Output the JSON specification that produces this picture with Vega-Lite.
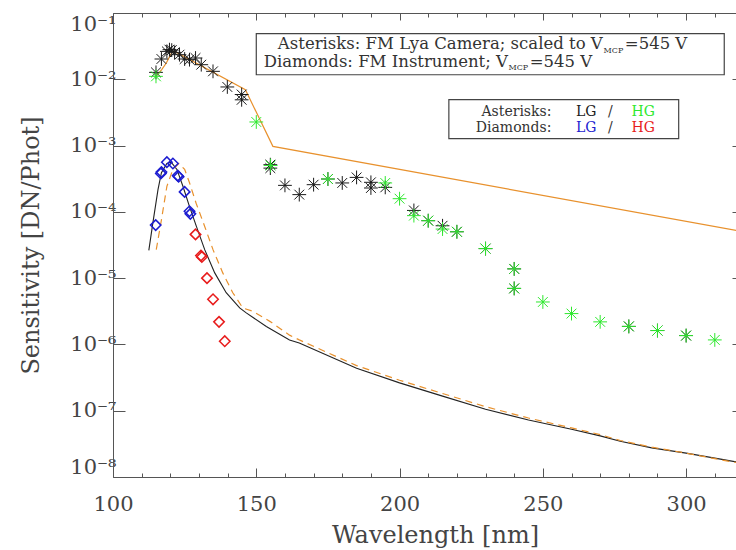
{
  "$schema": "https://vega.github.io/schema/vega-lite/v6.json",
  "width": 623,
  "height": 464,
  "autosize": "none",
  "padding": {"left": 113, "top": 13, "right": 0, "bottom": 73},
  "background": "white",
  "config": {"view": {"stroke": null}, "text": {"font": "DejaVu Serif"}},
  "resolve": {"axis": {"x": "independent", "y": "independent"}},
  "layer": [
    {
      "data": {"values": [
        {"wl": 115, "s": 0.01107}, {"wl": 117, "s": 0.01396}, {"wl": 118.6, "s": 0.01762},
        {"wl": 119.5, "s": 0.02094}, {"wl": 120.5, "s": 0.02547}, {"wl": 121.5, "s": 0.02636},
        {"wl": 146.2, "s": 0.00697}, {"wl": 155.8, "s": 0.000973}, {"wl": 320, "s": 0.00005}
      ]},
      "mark": {"type": "line", "color": "#e8912d", "strokeWidth": 1.2, "clip": true},
      "encoding": {
        "x": {"field": "wl", "type": "quantitative",
          "scale": {"domain": [100, 317.4], "nice": false, "zero": false},
          "axis": {"orient": "bottom", "values": [100,110,120,130,140,150,160,170,180,190,200,210,220,230,240,250,260,270,280,290,300,310],
            "tickSize": {"condition": {"test": "datum.value % 50 === 0", "value": -9}, "value": -4},
            "labelExpr": "datum.value % 50 === 0 ? datum.label : ''",
            "labelFlush": false, "labelOverlap": false, "labelPadding": 25, "grid": false,
            "labelFont": "DejaVu Serif", "labelFontSize": 21, "labelColor": "#444",
            "domainColor": "#555", "tickColor": "#555",
            "title": "Wavelength [nm]", "titleFont": "DejaVu Serif", "titleFontSize": 24, "titleFontWeight": "normal",
            "titleColor": "#444", "titleX": 322, "titleY": 65, "titleBaseline": "alphabetic", "titleAlign": "center"}},
        "y": {"field": "s", "type": "quantitative",
          "scale": {"type": "log", "domain": [1e-8, 0.1], "nice": false},
          "axis": {"orient": "left", "values": [1e-8,1e-7,1e-6,1e-5,1e-4,1e-3,1e-2,1e-1],
            "tickSize": -12, "grid": false,
            "labelExpr": "'10⁻' + ['⁰','¹','²','³','⁴','⁵','⁶','⁷','⁸','⁹'][round(-log(datum.value)/LN10)]",
            "labelFlush": true, "labelPadding": 9,
            "labelFont": "DejaVu Serif", "labelFontSize": 21, "labelColor": "#444",
            "domainColor": "#555", "tickColor": "#555",
            "title": "Sensitivity [DN/Phot]", "titleFont": "DejaVu Serif", "titleFontSize": 24, "titleFontWeight": "normal",
            "titleColor": "#444", "titleX": -82, "titleY": 232, "titleAngle": 270, "titleBaseline": "middle", "titleAlign": "center"}}
      }
    },
    {
      "data": {"values": [
        {"wl": 112.5, "s": 2.63e-5}, {"wl": 113.9, "s": 6.76e-5}, {"wl": 115.7, "s": 2.16e-4},
        {"wl": 116.9, "s": 3.89e-4}, {"wl": 118.8, "s": 5.37e-4}, {"wl": 120.3, "s": 5.62e-4},
        {"wl": 122.3, "s": 4.37e-4}, {"wl": 124.4, "s": 2.43e-4}, {"wl": 126.7, "s": 1.20e-4},
        {"wl": 129.1, "s": 6.03e-5}, {"wl": 132, "s": 2.69e-5}, {"wl": 135.5, "s": 1.20e-5},
        {"wl": 139.5, "s": 6.03e-6}, {"wl": 144.2, "s": 3.55e-6}, {"wl": 146.5, "s": 2.99e-6},
        {"wl": 153.5, "s": 1.86e-6}, {"wl": 161.6, "s": 1.17e-6}, {"wl": 165, "s": 1.05e-6},
        {"wl": 185, "s": 4.37e-7}, {"wl": 200, "s": 2.63e-7}, {"wl": 215, "s": 1.66e-7},
        {"wl": 230, "s": 1.05e-7}, {"wl": 245, "s": 7.24e-8}, {"wl": 260, "s": 5.25e-8},
        {"wl": 270, "s": 4.17e-8}, {"wl": 277, "s": 3.47e-8}, {"wl": 288, "s": 2.75e-8},
        {"wl": 300, "s": 2.29e-8}, {"wl": 312, "s": 1.86e-8}, {"wl": 320, "s": 1.62e-8}
      ]},
      "mark": {"type": "line", "color": "#222", "strokeWidth": 1.1, "clip": true},
      "encoding": {
        "x": {"field": "wl", "type": "quantitative",
          "axis": {"orient": "top", "values": [100,110,120,130,140,150,160,170,180,190,200,210,220,230,240,250,260,270,280,290,300,310],
            "tickSize": {"condition": {"test": "datum.value % 50 === 0", "value": -7}, "value": -4},
            "labels": false, "title": null, "grid": false, "domainColor": "#555", "tickColor": "#555"}},
        "y": {"field": "s", "type": "quantitative",
          "axis": {"orient": "right", "values": [1e-8,1e-7,1e-6,1e-5,1e-4,1e-3,1e-2,1e-1],
            "tickSize": -4, "labels": false, "title": null, "grid": false, "domain": false, "tickColor": "#555"}}
      }
    },
    {
      "data": {"values": [
        {"wl": 115.1, "s": 2.69e-5}, {"wl": 116.9, "s": 7.59e-5}, {"wl": 118.8, "s": 2.43e-4},
        {"wl": 120.9, "s": 4.37e-4}, {"wl": 123, "s": 5.37e-4}, {"wl": 125, "s": 4.37e-4},
        {"wl": 126.7, "s": 2.75e-4}, {"wl": 129, "s": 1.35e-4}, {"wl": 132, "s": 6.03e-5},
        {"wl": 134.9, "s": 2.69e-5}, {"wl": 138.3, "s": 1.20e-5}, {"wl": 141.8, "s": 6.03e-6},
        {"wl": 145.3, "s": 3.55e-6}, {"wl": 148.8, "s": 3.16e-6}, {"wl": 155, "s": 2.19e-6},
        {"wl": 161.6, "s": 1.38e-6}, {"wl": 165, "s": 1.17e-6}, {"wl": 185, "s": 4.79e-7},
        {"wl": 200, "s": 2.88e-7}, {"wl": 215, "s": 1.82e-7}, {"wl": 230, "s": 1.15e-7},
        {"wl": 245, "s": 7.76e-8}, {"wl": 260, "s": 5.50e-8}, {"wl": 270, "s": 4.37e-8},
        {"wl": 277, "s": 3.55e-8}, {"wl": 288, "s": 2.82e-8}, {"wl": 300, "s": 2.29e-8},
        {"wl": 312, "s": 1.82e-8}, {"wl": 320, "s": 1.58e-8}
      ]},
      "mark": {"type": "line", "color": "#e8912d", "strokeWidth": 1.2, "strokeDash": [7, 5], "clip": true},
      "encoding": {
        "x": {"field": "wl", "type": "quantitative", "axis": null},
        "y": {"field": "s", "type": "quantitative", "axis": null}
      }
    },
    {
      "data": {"values": [
        {"wl": 115, "s": 0.01271, "series": "Asterisks LG"}, {"wl": 116.9, "s": 0.02023, "series": "Asterisks LG"},
        {"wl": 118.8, "s": 0.02636, "series": "Asterisks LG"}, {"wl": 119.7, "s": 0.02799, "series": "Asterisks LG"},
        {"wl": 120.5, "s": 0.02754, "series": "Asterisks LG"}, {"wl": 121.5, "s": 0.02547, "series": "Asterisks LG"},
        {"wl": 123.2, "s": 0.0235, "series": "Asterisks LG"}, {"wl": 125, "s": 0.02023, "series": "Asterisks LG"},
        {"wl": 126.7, "s": 0.01977, "series": "Asterisks LG"}, {"wl": 128.8, "s": 0.02094, "series": "Asterisks LG"},
        {"wl": 130.8, "s": 0.0166, "series": "Asterisks LG"}, {"wl": 134.9, "s": 0.01318, "series": "Asterisks LG"},
        {"wl": 139.9, "s": 0.00766, "series": "Asterisks LG"}, {"wl": 144.9, "s": 0.00589, "series": "Asterisks LG"},
        {"wl": 144.9, "s": 0.0049, "series": "Asterisks LG"}, {"wl": 154.9, "s": 0.000515, "series": "Asterisks LG"},
        {"wl": 154.9, "s": 0.000457, "series": "Asterisks LG"}, {"wl": 160, "s": 0.000251, "series": "Asterisks LG"},
        {"wl": 165, "s": 0.000182, "series": "Asterisks LG"}, {"wl": 170, "s": 0.000257, "series": "Asterisks LG"},
        {"wl": 175, "s": 0.000313, "series": "Asterisks LG"}, {"wl": 180, "s": 0.000273, "series": "Asterisks LG"},
        {"wl": 185, "s": 0.000331, "series": "Asterisks LG"}, {"wl": 190, "s": 0.000279, "series": "Asterisks LG"},
        {"wl": 190, "s": 0.000229, "series": "Asterisks LG"}, {"wl": 195, "s": 0.000234, "series": "Asterisks LG"},
        {"wl": 205, "s": 0.000105, "series": "Asterisks LG"}, {"wl": 210, "s": 7.36e-5, "series": "Asterisks LG"},
        {"wl": 215, "s": 6.17e-5, "series": "Asterisks LG"}, {"wl": 220, "s": 5.01e-5, "series": "Asterisks LG"},
        {"wl": 230, "s": 2.79e-5, "series": "Asterisks LG"}, {"wl": 240, "s": 1.38e-5, "series": "Asterisks LG"},
        {"wl": 240, "s": 7.0e-6, "series": "Asterisks LG"}, {"wl": 280, "s": 1.87e-6, "series": "Asterisks LG"},
        {"wl": 290, "s": 1.62e-6, "series": "Asterisks LG"}, {"wl": 300, "s": 1.36e-6, "series": "Asterisks LG"},
        {"wl": 115, "s": 0.01107, "series": "Asterisks HG"}, {"wl": 150, "s": 0.00227, "series": "Asterisks HG"},
        {"wl": 155, "s": 0.000501, "series": "Asterisks HG"}, {"wl": 175, "s": 0.000313, "series": "Asterisks HG"},
        {"wl": 195, "s": 0.000273, "series": "Asterisks HG"}, {"wl": 200, "s": 0.000158, "series": "Asterisks HG"},
        {"wl": 205, "s": 8.77e-5, "series": "Asterisks HG"}, {"wl": 210, "s": 7.36e-5, "series": "Asterisks HG"},
        {"wl": 215, "s": 5.5e-5, "series": "Asterisks HG"}, {"wl": 220, "s": 5.01e-5, "series": "Asterisks HG"},
        {"wl": 230, "s": 2.79e-5, "series": "Asterisks HG"}, {"wl": 240, "s": 1.38e-5, "series": "Asterisks HG"},
        {"wl": 240, "s": 7.0e-6, "series": "Asterisks HG"}, {"wl": 250, "s": 4.37e-6, "series": "Asterisks HG"},
        {"wl": 260, "s": 2.92e-6, "series": "Asterisks HG"}, {"wl": 270, "s": 2.19e-6, "series": "Asterisks HG"},
        {"wl": 280, "s": 1.87e-6, "series": "Asterisks HG"}, {"wl": 290, "s": 1.62e-6, "series": "Asterisks HG"},
        {"wl": 300, "s": 1.36e-6, "series": "Asterisks HG"}, {"wl": 310, "s": 1.17e-6, "series": "Asterisks HG"}
      ]},
      "mark": {"type": "point", "filled": false, "strokeWidth": 1, "opacity": 1, "size": 190,
        "shape": "M-1,0L1,0M0,-1L0,1M-0.71,-0.71L0.71,0.71M-0.71,0.71L0.71,-0.71"},
      "encoding": {
        "x": {"field": "wl", "type": "quantitative", "axis": null},
        "y": {"field": "s", "type": "quantitative", "axis": null},
        "color": {"field": "series", "type": "nominal", "legend": null,
          "scale": {"domain": ["Asterisks LG", "Asterisks HG", "Diamonds LG", "Diamonds HG", "Text"],
                    "range": ["#1a1a1a", "#2ee82e", "#1c1cd0", "#e81c1c", "#333333"]}}
      }
    },
    {
      "data": {"values": [
        {"wl": 114.9, "s": 6.31e-5, "series": "Diamonds LG"}, {"wl": 116.7, "s": 3.80e-4, "series": "Diamonds LG"},
        {"wl": 116.9, "s": 3.98e-4, "series": "Diamonds LG"}, {"wl": 118.8, "s": 5.62e-4, "series": "Diamonds LG"},
        {"wl": 120.9, "s": 5.37e-4, "series": "Diamonds LG"}, {"wl": 122.6, "s": 3.52e-4, "series": "Diamonds LG"},
        {"wl": 122.9, "s": 3.39e-4, "series": "Diamonds LG"}, {"wl": 125, "s": 2.0e-4, "series": "Diamonds LG"},
        {"wl": 126.7, "s": 1.02e-4, "series": "Diamonds LG"}, {"wl": 127, "s": 9.33e-5, "series": "Diamonds LG"},
        {"wl": 128.8, "s": 4.57e-5, "series": "Diamonds HG"}, {"wl": 130.7, "s": 2.19e-5, "series": "Diamonds HG"},
        {"wl": 131.0, "s": 2.09e-5, "series": "Diamonds HG"}, {"wl": 132.8, "s": 1.0e-5, "series": "Diamonds HG"},
        {"wl": 134.9, "s": 4.79e-6, "series": "Diamonds HG"}, {"wl": 137, "s": 2.19e-6, "series": "Diamonds HG"},
        {"wl": 139, "s": 1.12e-6, "series": "Diamonds HG"}
      ]},
      "mark": {"type": "point", "shape": "diamond", "filled": false, "strokeWidth": 1.5, "opacity": 1, "size": 110},
      "encoding": {
        "x": {"field": "wl", "type": "quantitative", "axis": null},
        "y": {"field": "s", "type": "quantitative", "axis": null},
        "color": {"field": "series", "type": "nominal", "legend": null}
      }
    },
    {
      "data": {"values": [
        {"x1": 150.0, "x2": 313.3, "y1": 0.0487, "y2": 0.0117},
        {"x1": 217.2, "x2": 297.4, "y1": 0.00492, "y2": 0.00127}
      ]},
      "mark": {"type": "rect", "fill": null, "stroke": "#444", "strokeWidth": 1.2},
      "encoding": {
        "x": {"field": "x1", "type": "quantitative", "axis": null},
        "x2": {"field": "x2"},
        "y": {"field": "y1", "type": "quantitative", "axis": null},
        "y2": {"field": "y2"}
      }
    },
    {
      "data": {"values": [
        {"wl": 270.9, "s": 0.0286, "t": "Asterisks: FM Lya Camera; scaled to V"},
        {"wl": 237.8, "s": 0.0155, "t": "Diamonds: FM Instrument; V"}
      ]},
      "mark": {"type": "text", "align": "right", "baseline": "alphabetic", "fontSize": 16.5, "color": "#333"},
      "encoding": {
        "x": {"field": "wl", "type": "quantitative", "axis": null},
        "y": {"field": "s", "type": "quantitative", "axis": null},
        "text": {"field": "t"}
      }
    },
    {
      "data": {"values": [
        {"wl": 271.2, "s": 0.0252, "t": "MCP"},
        {"wl": 238.0, "s": 0.0136, "t": "MCP"}
      ]},
      "mark": {"type": "text", "align": "left", "baseline": "alphabetic", "fontSize": 8, "color": "#333"},
      "encoding": {
        "x": {"field": "wl", "type": "quantitative", "axis": null},
        "y": {"field": "s", "type": "quantitative", "axis": null},
        "text": {"field": "t"}
      }
    },
    {
      "data": {"values": [
        {"wl": 278.6, "s": 0.0286, "t": "=545  V"},
        {"wl": 245.4, "s": 0.0155, "t": "=545  V"}
      ]},
      "mark": {"type": "text", "align": "left", "baseline": "alphabetic", "fontSize": 16.5, "color": "#333"},
      "encoding": {
        "x": {"field": "wl", "type": "quantitative", "axis": null},
        "y": {"field": "s", "type": "quantitative", "axis": null},
        "text": {"field": "t"}
      }
    },
    {
      "data": {"values": [
        {"wl": 253.0, "s": 0.00283, "t": "Asterisks:", "series": "Text"},
        {"wl": 253.0, "s": 0.00159, "t": "Diamonds:", "series": "Text"}
      ]},
      "mark": {"type": "text", "align": "right", "baseline": "alphabetic", "fontSize": 14},
      "encoding": {
        "x": {"field": "wl", "type": "quantitative", "axis": null},
        "y": {"field": "s", "type": "quantitative", "axis": null},
        "text": {"field": "t"},
        "color": {"field": "series", "type": "nominal", "legend": null}
      }
    },
    {
      "data": {"values": [
        {"wl": 265.1, "s": 0.00283, "t": "LG", "series": "Asterisks LG"},
        {"wl": 273.6, "s": 0.00283, "t": "/", "series": "Text"},
        {"wl": 285.0, "s": 0.00283, "t": "HG", "series": "Asterisks HG"},
        {"wl": 265.1, "s": 0.00159, "t": "LG", "series": "Diamonds LG"},
        {"wl": 273.6, "s": 0.00159, "t": "/", "series": "Text"},
        {"wl": 285.0, "s": 0.00159, "t": "HG", "series": "Diamonds HG"}
      ]},
      "mark": {"type": "text", "align": "center", "baseline": "alphabetic", "fontSize": 14},
      "encoding": {
        "x": {"field": "wl", "type": "quantitative", "axis": null},
        "y": {"field": "s", "type": "quantitative", "axis": null},
        "text": {"field": "t"},
        "color": {"field": "series", "type": "nominal", "legend": null}
      }
    }
  ]
}
